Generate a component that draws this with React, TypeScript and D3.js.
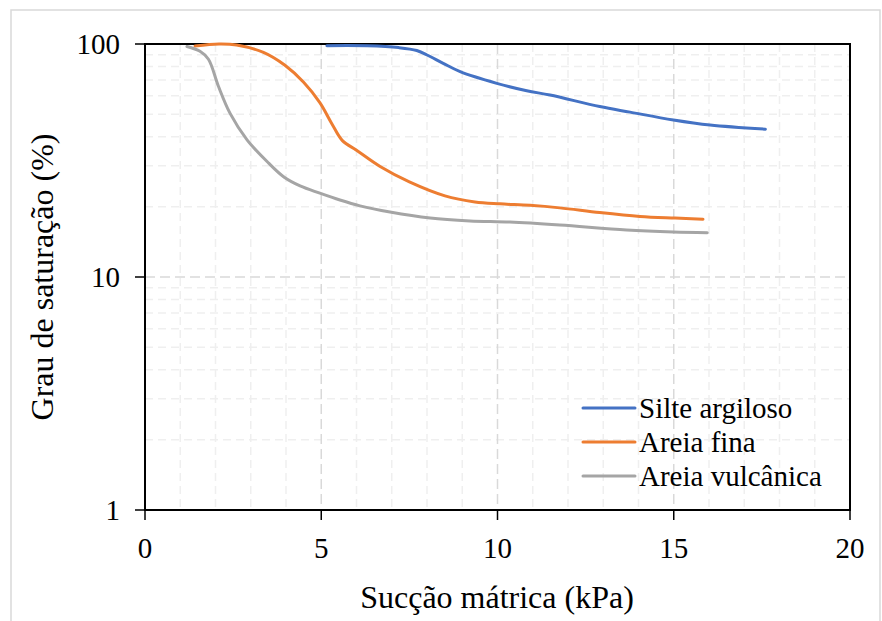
import React from "react";
import * as d3 from "d3";

const siltX = [5.16, 6.3, 7.2, 7.71, 8.0, 8.46, 8.94, 9.98, 10.83, 11.49, 12.9, 13.76, 14.99, 16.03, 17.6];
const siltY = [98.3, 98.2, 96.5, 93.8, 89.7, 82.6, 76.1, 67.8, 63, 60.4, 53.9, 51, 47.2, 44.9, 43.1];

const finaX = [1.42, 2.1, 2.6, 3.36, 3.97, 4.5, 4.96, 5.3, 5.6, 6.0, 6.67, 7.5, 8.51, 9.36, 10.07, 10.92, 11.77, 12.9, 14.04, 15.04, 15.83];
const finaY = [98, 100, 99, 92, 81, 68.5, 56, 45.5, 38.5, 35, 29.8, 25.6, 22.3, 21, 20.6, 20.3, 19.8, 18.9, 18.2, 17.9, 17.7];

const vulcX = [1.19, 1.56, 1.8, 2.08, 2.41, 2.9, 3.5, 3.95, 4.4, 4.96, 5.53, 6.1, 6.95, 8.09, 9.22, 10.35, 11.77, 13.66, 14.99, 15.95];
const vulcY = [97.5, 93, 86, 66, 50.5, 38.7, 30.9, 26.8, 24.6, 22.9, 21.4, 20.2, 19.0, 17.9, 17.4, 17.2, 16.7, 15.9, 15.6, 15.5];

const seriesNames = ["Silte argiloso", "Areia fina", "Areia vulcânica"];
const colors = ["#4472C4", "#ED7D31", "#A5A5A5"];
const xTicks = [0, 5, 10, 15, 20];
const yTicks = [1, 10, 100];

export default function App() {
  const W = 882, H = 621;
  const L = 145, R = 850, T = 44, B = 510;
  const x = d3.scaleLinear().domain([0, 20]).range([L, R]);
  const y = d3.scaleLog().domain([1, 100]).range([B, T]);
  const fontStyle = { fontFamily: '"Liberation Serif", "Times New Roman", "DejaVu Serif", serif' };

  const series = [
    siltX.map((v, i) => [v, siltY[i]]),
    finaX.map((v, i) => [v, finaY[i]]),
    vulcX.map((v, i) => [v, vulcY[i]]),
  ] as [number, number][][];

  const line = d3.line<[number, number]>()
    .x(d => x(d[0]))
    .y(d => y(d[1]))
    .curve(d3.curveCatmullRom.alpha(0.5));

  const minorX = d3.range(1, 20).filter(v => v % 5 !== 0);
  const minorY: number[] = [];
  [1, 10].forEach(dec => { for (let k = 2; k <= 9; k++) minorY.push(dec * k); });

  return (
    <svg width={W} height={H} style={{ position: "absolute", left: 0, top: 0, background: "#fff" }}>
      <rect x={11} y={10} width={869} height={640} fill="#fff" stroke="#d9d9d9" strokeWidth={1.5} />
      {minorX.map(v => (
        <line key={"mx" + v} x1={x(v)} x2={x(v)} y1={T} y2={B} stroke="#efefef" strokeWidth={1.5} strokeDasharray="8,5" />
      ))}
      {minorY.map(v => (
        <line key={"my" + v} x1={L} x2={R} y1={y(v)} y2={y(v)} stroke="#efefef" strokeWidth={1.5} strokeDasharray="8,5" />
      ))}
      {[5, 10, 15].map(v => (
        <line key={"Mx" + v} x1={x(v)} x2={x(v)} y1={T} y2={B} stroke="#d9d9d9" strokeWidth={1.5} strokeDasharray="10,5" />
      ))}
      {[10].map(v => (
        <line key={"My" + v} x1={L} x2={R} y1={y(v)} y2={y(v)} stroke="#d9d9d9" strokeWidth={1.5} strokeDasharray="10,5" />
      ))}
      <rect x={L} y={T} width={R - L} height={B - T} fill="none" stroke="#000" strokeWidth={2} />
      {yTicks.map(v => (
        <g key={"yt" + v}>
          <line x1={L - 10} x2={L} y1={y(v)} y2={y(v)} stroke="#000" strokeWidth={1.5} />
          <text x={L - 25} y={y(v)} dy="0.35em" textAnchor="end" style={fontStyle} fontSize={29} fill="#000">{v}</text>
        </g>
      ))}
      {xTicks.map(v => (
        <g key={"xt" + v}>
          <line x1={x(v)} x2={x(v)} y1={B} y2={B + 10} stroke="#000" strokeWidth={1.5} />
          <text x={x(v)} y={B + 38} dy="0.35em" textAnchor="middle" style={fontStyle} fontSize={29} fill="#000">{v}</text>
        </g>
      ))}
      {series.map((s, i) => (
        <path key={"s" + i} d={line(s) || ""} fill="none" stroke={colors[i]} strokeWidth={3} strokeLinecap="round" />
      ))}
      {seriesNames.map((n, i) => (
        <g key={"lg" + i}>
          <line x1={583} x2={635} y1={408 + i * 34} y2={408 + i * 34} stroke={colors[i]} strokeWidth={3} strokeLinecap="round" />
          <text x={639} y={408 + i * 34} dy="0.35em" style={fontStyle} fontSize={29} fill="#000">{n}</text>
        </g>
      ))}
      <text x={497} y={597} dy="0.35em" textAnchor="middle" style={fontStyle} fontSize={32} fill="#000">Sucção mátrica (kPa)</text>
      <text transform={`translate(42, ${(T + B) / 2}) rotate(-90)`} dy="0.35em" textAnchor="middle" style={fontStyle} fontSize={32} fill="#000">Grau de saturação (%)</text>
    </svg>
  );
}
